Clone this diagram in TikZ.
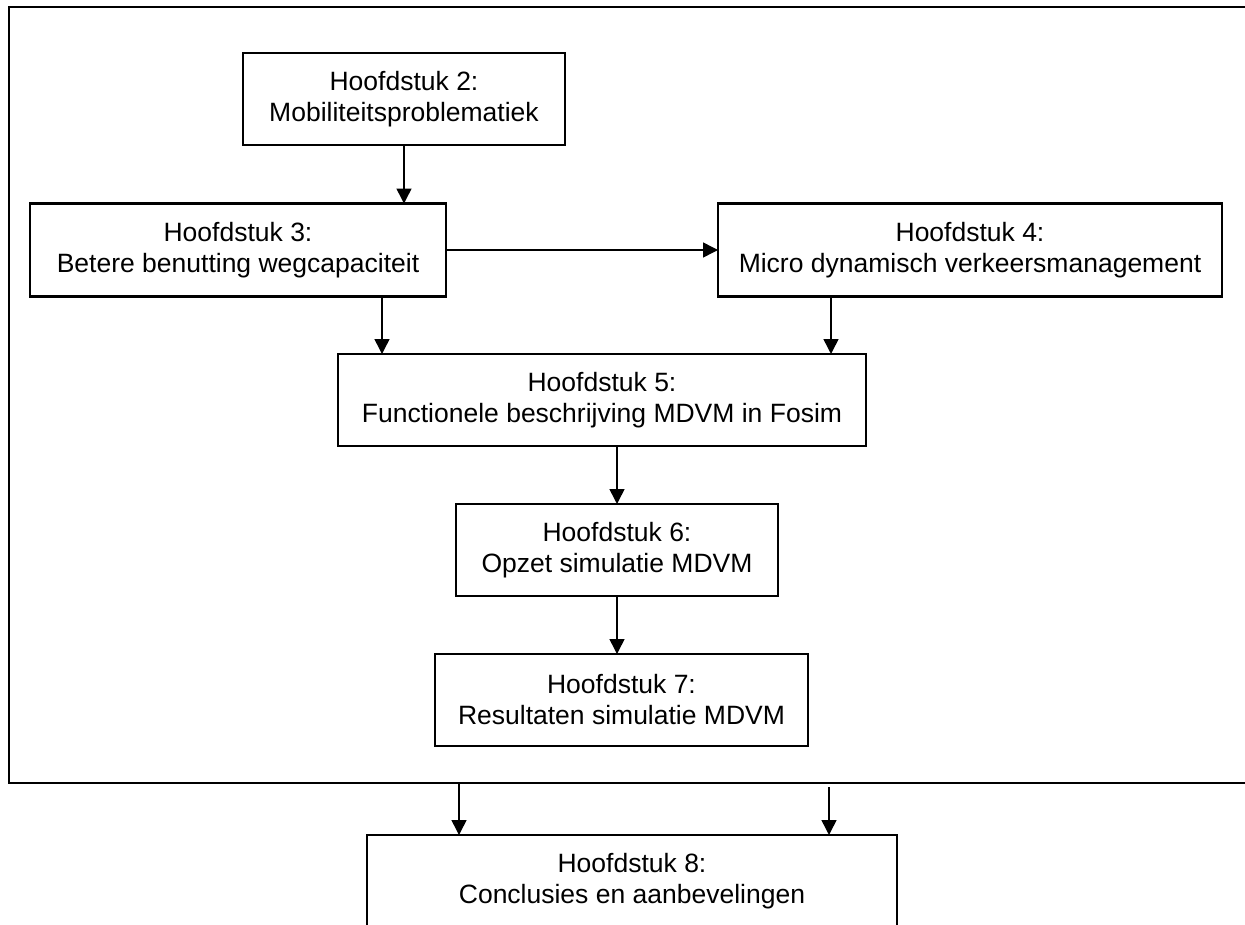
\documentclass[tikz,border=0pt]{standalone}
\usepackage{fontspec}
\setmainfont{Liberation Sans}
\usetikzlibrary{arrows.meta}

\begin{document}
\begin{tikzpicture}[x=1pt,y=-1pt,
  chapter/.style={draw, line width=2.3pt, rectangle, inner sep=0pt, outer sep=0pt,
    align=center, font=\fontsize{26.5}{31}\selectfont},
  flow/.style={line width=1.5pt, -{Triangle[width=15pt,length=15pt]}},
  frameline/.style={line width=2.4pt}]
\clip (0,0) rectangle (1245,924);

% chapter boxes
\node[chapter, minimum width=322, minimum height=92] (b2) at (404,99)
  {Hoofdstuk 2:\\Mobiliteitsproblematiek};
\node[chapter, minimum width=416, minimum height=93] (b3) at (238,250)
  {Hoofdstuk 3:\\Betere benutting wegcapaciteit};
\node[chapter, minimum width=504, minimum height=93] (b4) at (970,250)
  {Hoofdstuk 4:\\Micro dynamisch verkeersmanagement};
\node[chapter, minimum width=528, minimum height=92] (b5) at (602,400)
  {Hoofdstuk 5:\\Functionele beschrijving MDVM in Fosim};
\node[chapter, minimum width=322, minimum height=92] (b6) at (617,550)
  {Hoofdstuk 6:\\Opzet simulatie MDVM};
\node[chapter, minimum width=373, minimum height=92] (b7) at (621.5,700)
  {Hoofdstuk 7:\\Resultaten simulatie MDVM};
\node[chapter, minimum width=530, minimum height=92] (b8) at (632,881)
  {Hoofdstuk 8:\\Conclusies en aanbevelingen};

% open frame around chapters 2 to 7
\draw[frameline] (1250,7) -- (9,7) -- (9,783) -- (1250,783);
\coordinate (fl) at (459,783);
\coordinate (fr) at (829,787);

% connectors
\draw[flow] (b2.south) -- (b2.south |- b3.north);
\draw[flow] (b3.east) -- (b4.west);
\draw[flow] ([xshift=144]b3.south) -- ([xshift=144]b3.south |- b5.north);
\draw[flow] ([xshift=-139]b4.south) -- ([xshift=-139]b4.south |- b5.north);
\draw[flow] (b6.north |- b5.south) -- (b6.north);
\draw[flow] (b6.south) -- (b6.south |- b7.north);
\draw[flow] (fl) -- (fl |- b8.north);
\draw[flow] (fr) -- (fr |- b8.north);
\end{tikzpicture}
\end{document}
